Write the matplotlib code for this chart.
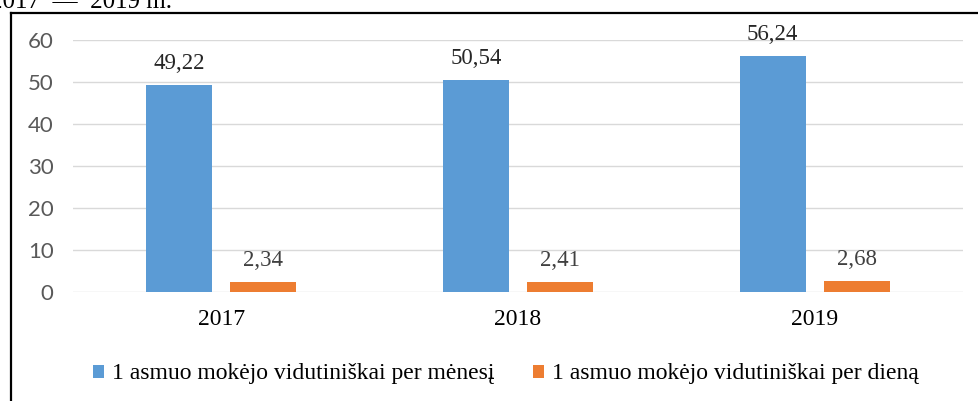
import matplotlib
matplotlib.use("Agg")
import matplotlib.pyplot as plt
from matplotlib.patches import Patch
from matplotlib.lines import Line2D
import numpy as np

years = ["2017", "2018", "2019"]
per_month = [49.22, 50.54, 56.24]
per_day = [2.34, 2.41, 2.68]
series_names = ["1 asmuo mokėjo vidutiniškai per mėnesį",
                "1 asmuo mokėjo vidutiniškai per dieną"]
yticks = [0, 10, 20, 30, 40, 50, 60]
header = "2017  —  2019 m."

blue = "#5B9BD5"
orange = "#ED7D31"
serif = "Liberation Serif"

W, H = 979, 401
fig = plt.figure(figsize=(W / 100, H / 100), dpi=100)
ax = fig.add_axes([73 / W, 1 - 292 / H, (963 - 73) / W, (292 - 40) / H])

x = np.arange(len(years))
bw = 0.2225
off = 0.1416
b1 = ax.bar(x - off, per_month, bw, color=blue, zorder=2)
b2 = ax.bar(x + off, per_day, bw, color=orange, zorder=2)

for rect, v in zip(b1, per_month):
    ax.annotate(f"{v:.2f}".replace(".", ","), (rect.get_x() + rect.get_width() / 2, v),
                xytext=(0, 11.5), textcoords="offset points", ha="center", va="baseline",
                fontsize=16.5, family=serif, color="#262626", zorder=3)
for rect, v in zip(b2, per_day):
    ax.annotate(f"{v:.2f}".replace(".", ","), (rect.get_x() + rect.get_width() / 2, v),
                xytext=(0, 11.5), textcoords="offset points", ha="center", va="baseline",
                fontsize=16.5, family=serif, color="#404040", zorder=3)

ax.set_xlim(-0.5, len(years) - 0.5)
ax.set_ylim(0, 60)
ax.set_yticks(yticks)
ax.set_yticklabels([str(t) for t in yticks], fontsize=16, family="Lato", color="#595959")
ax.set_xticks(x)
ax.set_xticklabels(years, fontsize=17, family=serif, color="black")
ax.tick_params(axis="y", length=0, pad=14)
ax.tick_params(axis="x", length=0, pad=12.5)
ax.grid(axis="y", color="#d9d9d9", linewidth=1, zorder=0)
for s in ax.spines.values():
    s.set_visible(False)
ax.set_axisbelow(True)

handles = [Patch(facecolor=blue, edgecolor="none"), Patch(facecolor=orange, edgecolor="none")]
fig.legend(handles, series_names, loc="center", bbox_to_anchor=(506 / W, 1 - 374 / H),
           ncol=2, frameon=False, prop={"family": serif, "size": 17},
           handlelength=0.48, handleheight=0.48, handletextpad=0.35, columnspacing=1.6,
           borderaxespad=0, borderpad=0)

# outer frame (partially visible)
fig.add_artist(Line2D([10.5 / W, 10.5 / W], [0, 1 - 12.5 / H], transform=fig.transFigure,
                      color="black", linewidth=1.6))
fig.add_artist(Line2D([10.5 / W, 1.0], [1 - 12.5 / H, 1 - 12.5 / H], transform=fig.transFigure,
                      color="black", linewidth=1.6))

# cropped header line above the chart
fig.text(-10 / W, 1 - 8.5 / H, header, ha="left", va="baseline",
         fontsize=18, family=serif, color="black")

fig.savefig("out.png", dpi=100)
